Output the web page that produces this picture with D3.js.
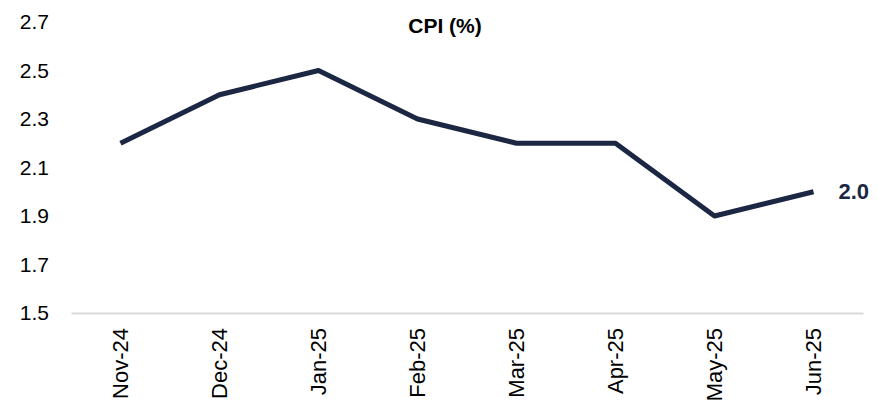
<!DOCTYPE html>
<html>
<head>
<meta charset="utf-8">
<script src="https://cdn.jsdelivr.net/npm/d3@7"></script>
<style>
  body { margin: 0; background: #fff; }
  text { font-family: "Liberation Sans", Arial, sans-serif; }
</style>
</head>
<body>
<svg id="chart" width="877" height="412"></svg>
<script>
var months = ["Nov-24", "Dec-24", "Jan-25", "Feb-25", "Mar-25", "Apr-25", "May-25", "Jun-25"];
var cpi = [2.2, 2.4, 2.5, 2.3, 2.2, 2.2, 1.9, 2.0];
var yTicks = [1.5, 1.7, 1.9, 2.1, 2.3, 2.5, 2.7];

var svg = d3.select("#chart");
// note: "top" is taken by window.top, so use other names
var plotLeft = 71, plotRight = 863, plotTop = 22, plotBottom = 313;
var lineColor = "#1b2743";

var x = d3.scaleBand().domain(months).range([plotLeft, plotRight]);
var y = d3.scaleLinear().domain([1.5, 2.7]).range([plotBottom, plotTop]);

// title
svg.append("text")
    .attr("x", 445).attr("y", 33)
    .attr("text-anchor", "middle")
    .style("font-size", "21px").style("font-weight", "bold")
    .attr("fill", "#000")
    .text("CPI (%)");

// y axis, labels only
var yAxis = svg.append("g")
    .attr("transform", "translate(" + plotLeft + ",0)")
    .call(d3.axisLeft(y).tickValues(yTicks).tickSize(0).tickPadding(22).tickFormat(d3.format(".1f")));
yAxis.select(".domain").remove();
yAxis.selectAll("text").style("font-size", "21px").attr("fill", "#000");

// x axis
var xAxis = svg.append("g")
    .attr("transform", "translate(0," + plotBottom + ")")
    .call(d3.axisBottom(x).tickSize(0));
xAxis.select(".domain").attr("stroke", "#d9d9d9").attr("stroke-width", 2);
xAxis.selectAll("text")
    .style("font-size", "22px").attr("fill", "#000")
    .attr("text-anchor", "end")
    .attr("transform", "rotate(-90)")
    .attr("x", -15).attr("y", 0).attr("dy", "0.35em");

// line
var line = d3.line()
    .x(function(d, i){ return x(months[i]) + x.bandwidth() / 2; })
    .y(function(d){ return y(d); });

svg.append("path")
    .datum(cpi)
    .attr("fill", "none")
    .attr("stroke", lineColor)
    .attr("stroke-width", 5)
    .attr("stroke-linejoin", "round")
    .attr("d", line);

// end label
var last = cpi.length - 1;
svg.append("text")
    .attr("x", x(months[last]) + x.bandwidth() / 2 + 25)
    .attr("y", y(cpi[last]))
    .attr("dy", "0.35em")
    .attr("fill", lineColor)
    .style("font-size", "22px").style("font-weight", "bold")
    .text(cpi[last].toFixed(1));
</script>
</body>
</html>
